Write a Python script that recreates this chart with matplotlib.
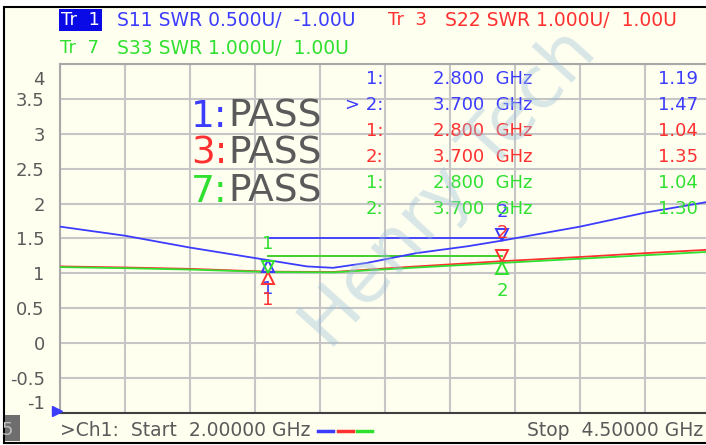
import matplotlib.pyplot as plt
import matplotlib.patches as patches
from matplotlib.lines import Line2D
from matplotlib.transforms import ScaledTranslation

# traces (frequency in GHz, SWR in U)
freq = [2.0, 2.25, 2.5, 2.8, 2.95, 3.05, 3.18, 3.37, 3.57, 3.7, 4.0, 4.25, 4.5]
s11_swr = [1.67, 1.54, 1.37, 1.19, 1.10, 1.08, 1.15, 1.29, 1.39, 1.47, 1.67, 1.87, 2.03]

freq_rg = [2.0, 2.25, 2.5, 2.8, 3.05, 3.35, 3.7, 4.0, 4.25, 4.5]
s22_swr = [1.20, 1.17, 1.13, 1.05, 1.04, 1.19, 1.35, 1.47, 1.58, 1.68]
s33_swr = [1.18, 1.15, 1.11, 1.04, 1.03, 1.16, 1.30, 1.42, 1.52, 1.62]

marker_freq = [2.8, 3.7]
s11_mk = [1.19, 1.47]
s22_mk = [1.04, 1.35]
s33_mk = [1.04, 1.30]

limit_freq = [2.8, 3.7]
limit_swr = 1.5

yticks = [-1, -0.5, 0, 0.5, 1, 1.5, 2, 2.5, 3, 3.5, 4]
xgrid = [2.0 + 0.25 * i for i in range(11)]

BLUE = '#3c3cff'
RED = '#ff3030'
GREEN = '#30e030'
GRAY = '#5a5a5a'
BG = '#fffff0'

W, H = 706.0, 445.0


def fx(x):
    return x / W


def fy(y):
    return 1 - y / H


def tr37(v):
    # Tr3 / Tr7 are 1.000U/div with ref 1.00 on the "1" line; axis is 0.5U/div
    return [1.0 + (a - 1.0) * 0.5 for a in v]


def main():
    fig = plt.figure(figsize=(W / 100, H / 100), dpi=100)
    fig.patch.set_facecolor('white')
    fig.patches.append(patches.Rectangle((fx(4), fy(443)), 1.0, fy(7) - fy(443),
                                         transform=fig.transFigure, facecolor=BG,
                                         edgecolor='black', lw=1.5, zorder=-5))

    ax = fig.add_axes([fx(60), fy(413), 650 / W, 349 / H])
    ax.set_zorder(1)
    ax.set_facecolor(BG)
    ax.set_xlim(2.0, 4.5)
    ax.set_ylim(-1, 4)
    ax.set_xticks(xgrid)
    ax.set_yticks(yticks)
    ax.set_xticklabels([])
    ax.set_yticklabels(['{:g}'.format(t) for t in yticks], fontsize=13, color=GRAY)
    ax.tick_params(length=0, pad=11)
    ax.grid(True, color='#c6c6c6', lw=1.5)
    ax.set_axisbelow(True)
    for s in ['left', 'top', 'right']:
        ax.spines[s].set_color('#a8a8a8')
        ax.spines[s].set_linewidth(1.5)
    ax.spines['bottom'].set_color('#404040')
    ax.spines['bottom'].set_linewidth(1.5)

    labels = ax.get_yticklabels()
    labels[0].set_transform(labels[0].get_transform() + ScaledTranslation(0, 0.11, fig.dpi_scale_trans))
    labels[-1].set_transform(labels[-1].get_transform() + ScaledTranslation(0, -0.14, fig.dpi_scale_trans))

    # traces
    ax.plot(freq_rg, tr37(s22_swr), color=RED, lw=1.3, zorder=3)
    ax.plot(freq_rg, tr37(s33_swr), color=GREEN, lw=1.3, zorder=4)
    ax.plot(freq, s11_swr, color=BLUE, lw=1.3, zorder=5)

    # limit lines
    ax.plot(limit_freq, tr37([limit_swr, limit_swr]), color=RED, lw=1.3, zorder=3)
    ax.plot(limit_freq, tr37([limit_swr, limit_swr]), color=GREEN, lw=1.3, zorder=4)
    ax.plot(limit_freq, [limit_swr, limit_swr], color=BLUE, lw=1.3, zorder=5)

    # marker triangles + numbers (direction: +1 = above the trace, -1 = below)
    mk = [(s11_mk, BLUE, [-1, 1]), (tr37(s22_mk), RED, [-1, 1]), (tr37(s33_mk), GREEN, [1, -1])]
    for vals, col, side in mk:
        for i, (f, v) in enumerate(zip(marker_freq, vals)):
            d = side[i]
            off = ScaledTranslation(0, d * 0.055, fig.dpi_scale_trans)
            ax.plot(f, v, marker='v' if d > 0 else '^', ms=8, mfc='none', mec=col, mew=1.4,
                    transform=ax.transData + off, zorder=6)
            ax.annotate(str(i + 1), xy=(f, v), xytext=(0, d * 14), textcoords='offset points',
                        ha='center', va='bottom' if d > 0 else 'top', fontsize=13, color=col, zorder=6)

    # reference position arrow for Tr1
    ax.plot(2.0, -1, marker='>', ms=7, color=BLUE, clip_on=False,
            transform=ax.transData + ScaledTranslation(-0.03, 0.02, fig.dpi_scale_trans), zorder=7)

    # marker table
    rows = [('1:', '2.800', s11_mk[0], BLUE), ('> 2:', '3.700', s11_mk[1], BLUE),
            ('1:', '2.800', s22_mk[0], RED), ('2:', '3.700', s22_mk[1], RED),
            ('1:', '2.800', s33_mk[0], GREEN), ('2:', '3.700', s33_mk[1], GREEN)]
    row_y = [79, 105, 131, 157, 183, 209]
    for (n, f, v, col), y in zip(rows, row_y):
        fig.text(fx(383), fy(y), n, ha='right', va='center', fontsize=13, color=col, zorder=3)
        fig.text(fx(433), fy(y), f + '  GHz', ha='left', va='center', fontsize=13, color=col, zorder=3)
        fig.text(fx(698), fy(y), '{:.2f}'.format(v), ha='right', va='center', fontsize=13, color=col, zorder=3)

    # limit test results
    for num, col, y in [('1', BLUE, 117), ('3', RED, 154), ('7', GREEN, 192)]:
        fig.text(fx(191), fy(y), num + ':', ha='left', va='center', fontsize=27, color=col, zorder=3)
        fig.text(fx(228), fy(y), 'PASS', ha='left', va='center', fontsize=27, color=GRAY, zorder=3)

    # header
    fig.text(fx(61), fy(20), 'Tr  1', ha='left', va='center', fontsize=13, color='white',
             bbox=dict(boxstyle='square,pad=0.12', fc='#0a0ae6', ec='none'))
    fig.text(fx(117), fy(20), 'S11 SWR 0.500U/  -1.00U', ha='left', va='center', fontsize=13.5, color=BLUE)
    fig.text(fx(388), fy(20), 'Tr  3', ha='left', va='center', fontsize=13, color=RED)
    fig.text(fx(445), fy(20), 'S22 SWR 1.000U/  1.00U', ha='left', va='center', fontsize=13.5, color=RED)
    fig.text(fx(60), fy(48), 'Tr  7', ha='left', va='center', fontsize=13, color=GREEN)
    fig.text(fx(117), fy(48), 'S33 SWR 1.000U/  1.00U', ha='left', va='center', fontsize=13.5, color=GREEN)

    # footer
    fig.patches.append(patches.Rectangle((fx(5), fy(441)), fx(15), fy(415) - fy(441),
                                         transform=fig.transFigure, facecolor='#6e6e6e', edgecolor='none'))
    fig.text(fx(2), fy(430), '5', ha='left', va='center', fontsize=13, color='#bdbdbd')
    fig.text(fx(60), fy(431), '>Ch1:  Start  2.00000 GHz', ha='left', va='center', fontsize=13.5, color=GRAY)
    for x0, col in [(318, BLUE), (338, RED), (357, GREEN)]:
        fig.lines.append(Line2D([fx(x0), fx(x0 + 15)], [fy(431), fy(431)], transform=fig.transFigure,
                                color=col, lw=2.5))
    fig.text(fx(527), fy(431), 'Stop  4.50000 GHz', ha='left', va='center', fontsize=13.5, color=GRAY)

    # watermark
    fig.text(fx(450), fy(190), 'Henry Tech', ha='center', va='center', fontsize=52, rotation=48,
             color='#9fc0d8', alpha=0.4, zorder=10)

    fig.savefig('out.png', dpi=100, facecolor=fig.get_facecolor())


if __name__ == "__main__":
    main()
